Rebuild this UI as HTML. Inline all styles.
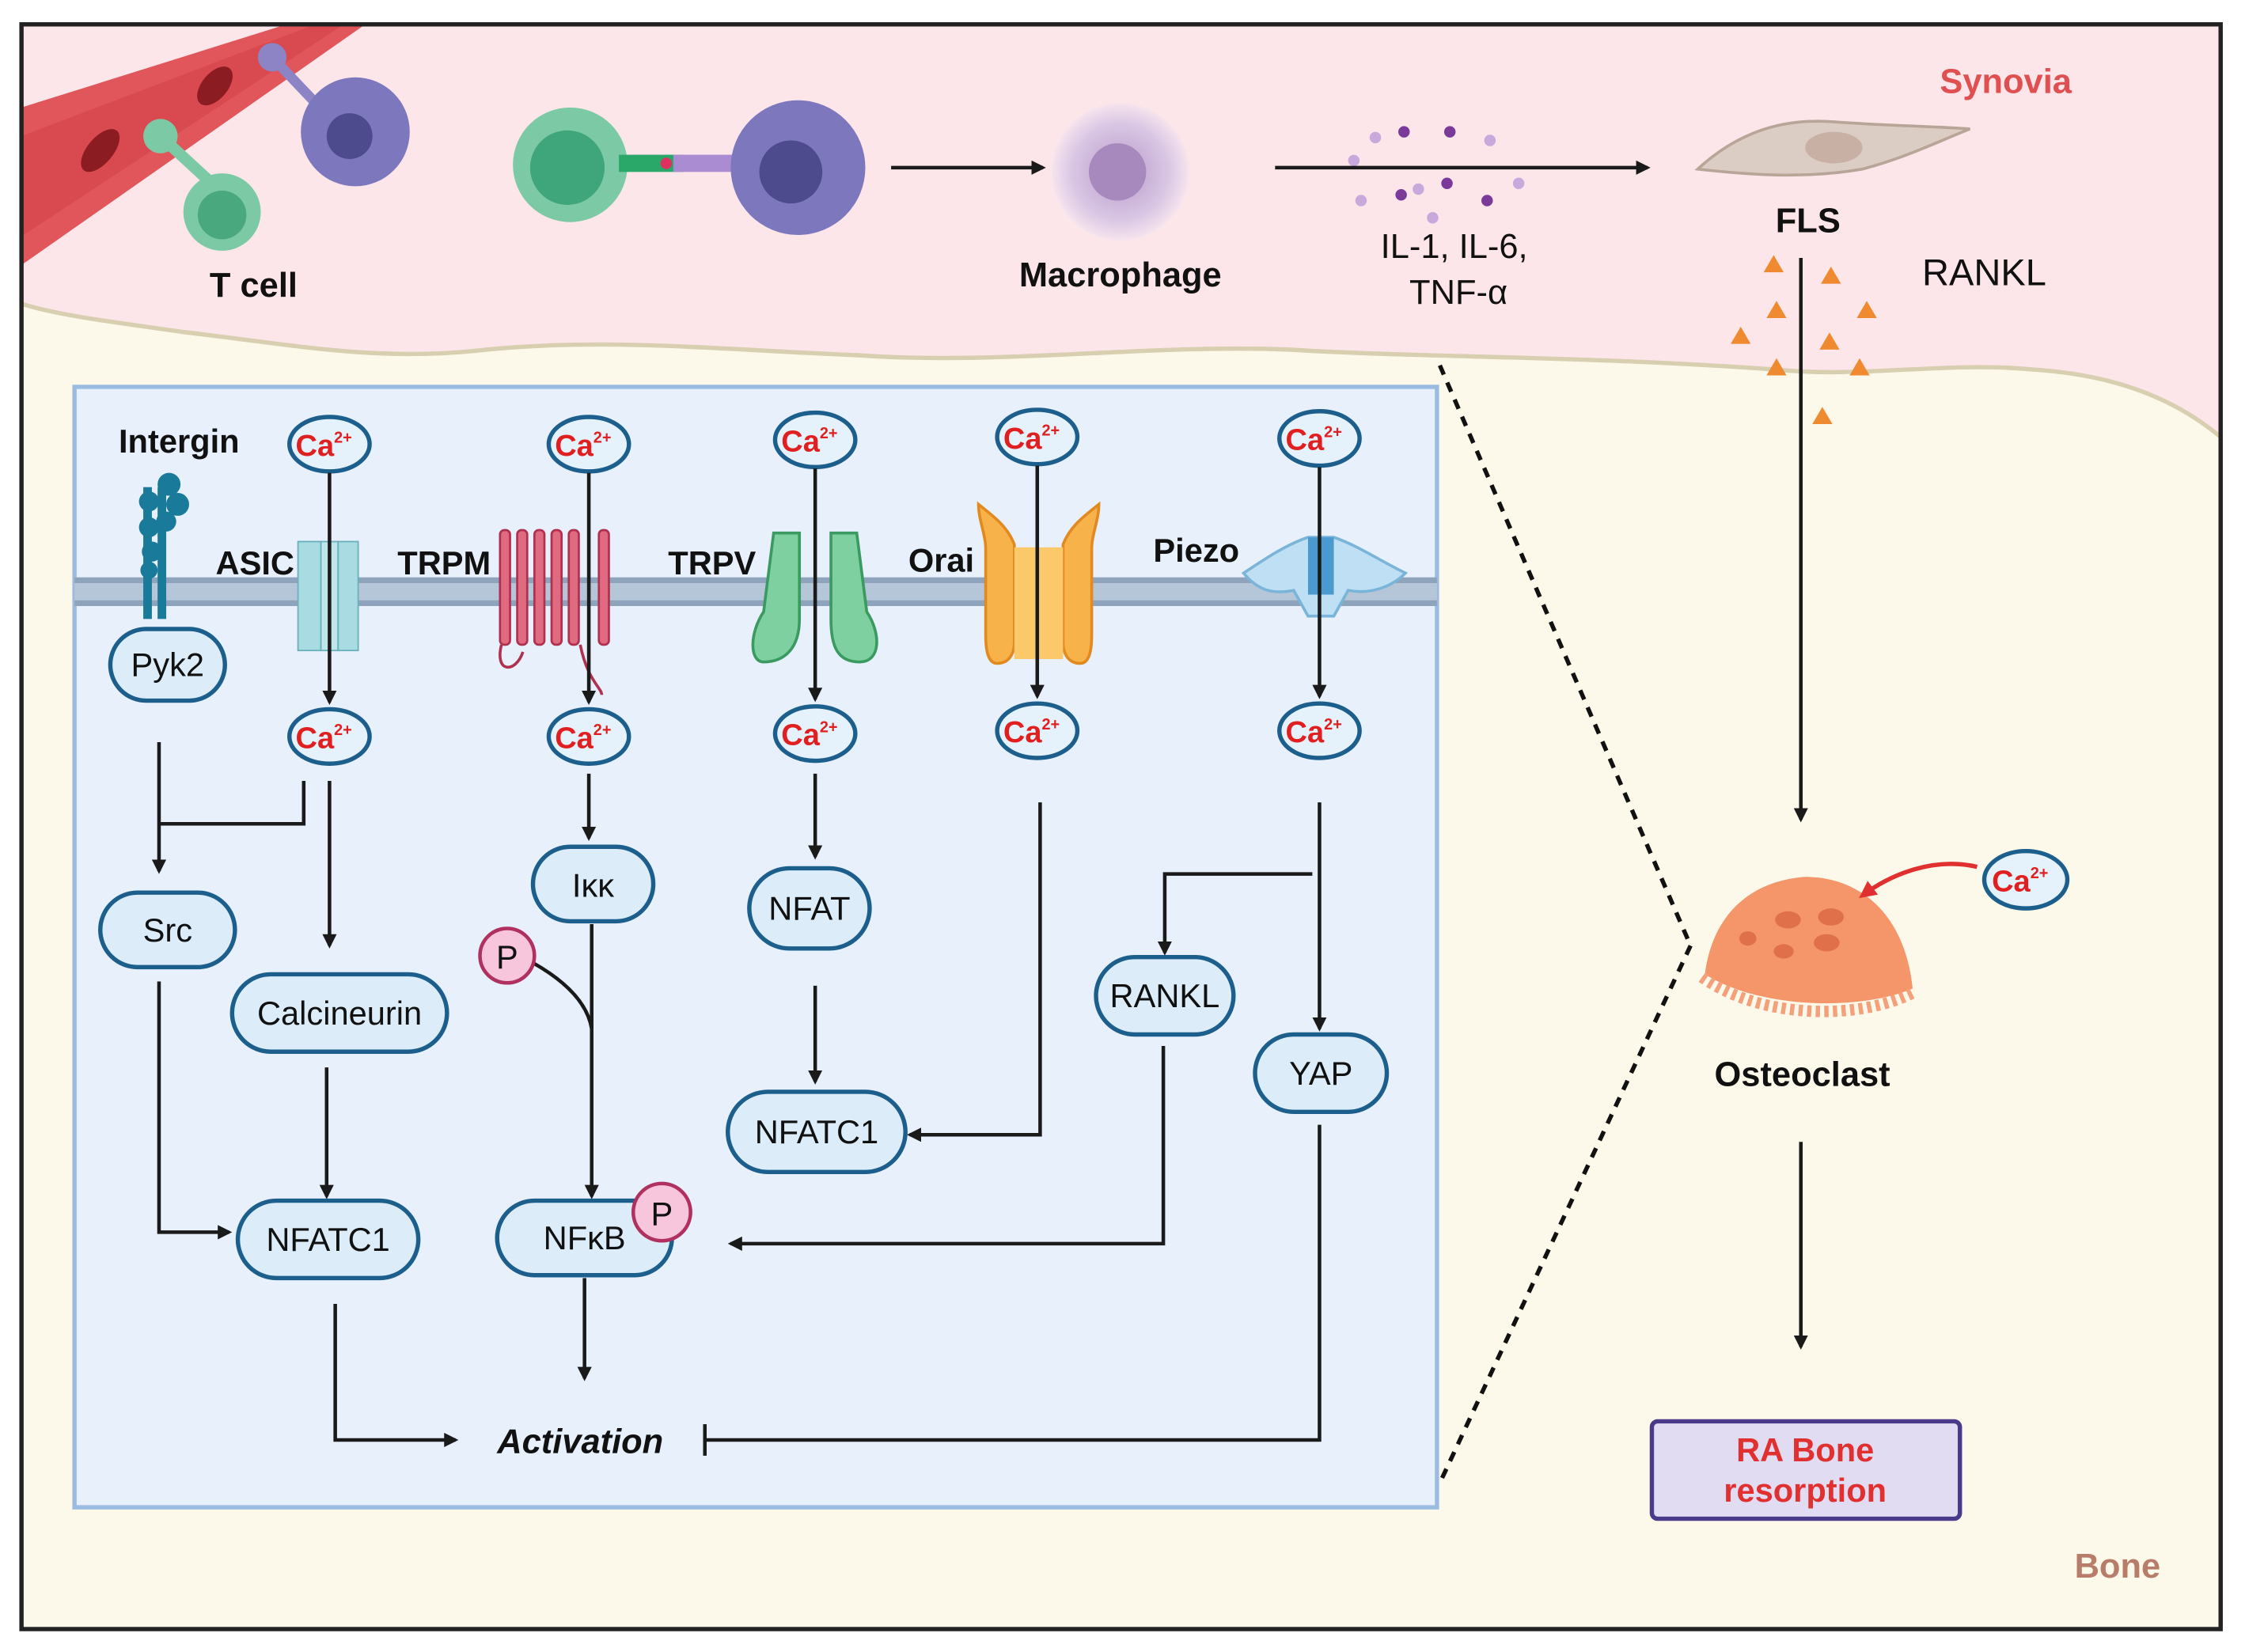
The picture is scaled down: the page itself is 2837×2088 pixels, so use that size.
<!DOCTYPE html>
<html><head><meta charset="utf-8"><style>
html,body{margin:0;padding:0;background:#fff;}
svg{display:block;}
text{font-family:"Liberation Sans",sans-serif;}
</style></head><body>
<svg width="2837" height="2088" viewBox="0 0 1567 1153" preserveAspectRatio="none" xmlns="http://www.w3.org/2000/svg">
<defs>
<marker id="ah" markerWidth="10" markerHeight="10" refX="8" refY="5" orient="auto" markerUnits="userSpaceOnUse"><path d="M0,0 L10,5 L0,10 z" fill="#1a1a1a"/></marker>
<marker id="ahr" markerWidth="12" markerHeight="12" refX="9" refY="6" orient="auto" markerUnits="userSpaceOnUse"><path d="M0,0 L12,6 L0,12 z" fill="#e03030"/></marker>
<radialGradient id="mac"><stop offset="0" stop-color="#b79ac9"/><stop offset="0.7" stop-color="#d9c6e4"/><stop offset="1" stop-color="#f6e4ee"/></radialGradient>
</defs>
<rect x="0" y="0" width="1567" height="1153" fill="#fff"/>
<rect x="15" y="17" width="1535" height="1120" fill="#fcf9ea"/>
<path d="M15,17 H1550 V305 C1520,280 1480,262 1420,258 C1360,252 1300,264 1240,258 C1100,248 1000,250 900,244 C800,240 700,255 600,248 C500,244 420,235 330,245 C260,252 200,240 130,232 C80,225 40,220 15,212 Z" fill="#fde6ea"/>
<path d="M1550,305 C1520,280 1480,262 1420,258 C1360,252 1300,264 1240,258 C1100,248 1000,250 900,244 C800,240 700,255 600,248 C500,244 420,235 330,245 C260,252 200,240 130,232 C80,225 40,220 15,212" fill="none" stroke="#d8ceb0" stroke-width="3"/>
<path d="M15,75 L200,17 L255,17 L15,185 Z" fill="#e0565a"/>
<path d="M15,95 L220,17 L240,17 L15,165 Z" fill="#d94a50"/>
<ellipse cx="70" cy="105" rx="9" ry="18" transform="rotate(40 70 105)" fill="#8b1c22"/>
<ellipse cx="150" cy="60" rx="9" ry="16" transform="rotate(40 150 60)" fill="#8b1c22"/>
<circle cx="112" cy="95" r="12" fill="#7ccaa5"/>
<path d="M112,95 L150,130" stroke="#7ccaa5" stroke-width="8"/>
<circle cx="155" cy="148" r="27" fill="#7ccaa5"/><circle cx="155" cy="150" r="17" fill="#4aa87e"/>
<circle cx="190" cy="40" r="10" fill="#8c84c4"/>
<path d="M190,40 L228,80" stroke="#8c84c4" stroke-width="7"/>
<circle cx="248" cy="92" r="38" fill="#7d78bd"/><circle cx="244" cy="95" r="16" fill="#4e4a8e"/>
<text x="177" y="207" font-size="24" font-weight="bold" text-anchor="middle" fill="#111">T cell</text>
<circle cx="398" cy="115" r="40" fill="#7ccaa5"/><circle cx="396" cy="117" r="26" fill="#3ea67a"/>
<rect x="432" y="108" width="45" height="12" fill="#2aa86a"/><rect x="470" y="108" width="45" height="12" fill="#a98cd2"/>
<circle cx="465" cy="114" r="4" fill="#e03060"/>
<circle cx="557" cy="117" r="47" fill="#7d78bd"/><circle cx="552" cy="120" r="22" fill="#4e4a8e"/>
<line x1="622" y1="117" x2="728" y2="117" stroke="#1a1a1a" stroke-width="2.5" marker-end="url(#ah)"/>
<circle cx="782" cy="120" r="48" fill="url(#mac)"/><circle cx="780" cy="120" r="20" fill="#a889bd"/>
<text x="782" y="200" font-size="24" font-weight="bold" text-anchor="middle" fill="#111">Macrophage</text>
<g fill="#c9a8dc"><circle cx="945" cy="112" r="4"/><circle cx="960" cy="96" r="4"/><circle cx="990" cy="132" r="4"/><circle cx="1040" cy="98" r="4"/><circle cx="1060" cy="128" r="4"/><circle cx="1000" cy="152" r="4"/><circle cx="950" cy="140" r="4"/></g>
<g fill="#7a3a9a"><circle cx="980" cy="92" r="4"/><circle cx="1012" cy="92" r="4"/><circle cx="1010" cy="128" r="4"/><circle cx="978" cy="136" r="4"/><circle cx="1038" cy="140" r="4"/></g>
<line x1="890" y1="117" x2="1150" y2="117" stroke="#1a1a1a" stroke-width="2.5" marker-end="url(#ah)"/>
<text x="1015" y="180" font-size="24" text-anchor="middle" fill="#111">IL-1, IL-6,</text>
<text x="1018" y="212" font-size="24" text-anchor="middle" fill="#111">TNF-α</text>
<path d="M1185,118 C1210,95 1240,82 1280,85 C1320,88 1350,88 1375,90 C1350,100 1330,110 1300,118 C1260,125 1220,122 1185,118 Z" fill="#dccdc4" stroke="#b9a598" stroke-width="2"/>
<ellipse cx="1280" cy="103" rx="20" ry="11" fill="#c9b0a4"/>
<text x="1262" y="162" font-size="24" font-weight="bold" text-anchor="middle" fill="#111">FLS</text>
<text x="1385" y="199" font-size="26" text-anchor="middle" fill="#111">RANKL</text>
<text x="1400" y="65" font-size="24" font-weight="bold" text-anchor="middle" fill="#e05050">Synovia</text>
<g fill="#f08a30"><path d="M1238,178 l7,12 h-14z"/><path d="M1278,186 l7,12 h-14z"/><path d="M1240,210 l7,12 h-14z"/><path d="M1303,210 l7,12 h-14z"/><path d="M1215,228 l7,12 h-14z"/><path d="M1277,232 l7,12 h-14z"/><path d="M1240,250 l7,12 h-14z"/><path d="M1298,250 l7,12 h-14z"/><path d="M1272,284 l7,12 h-14z"/></g>
<line x1="1257" y1="180" x2="1257" y2="572" stroke="#1a1a1a" stroke-width="2.5" marker-end="url(#ah)"/>
<path d="M1190,680 C1195,640 1220,615 1260,612 C1300,612 1330,640 1335,690 C1300,705 1230,705 1190,680 Z" fill="#f4956a"/>
<path d="M1188,682 C1230,712 1300,712 1337,692" fill="none" stroke="#f4a07a" stroke-width="8" stroke-dasharray="3 3"/>
<g fill="#e0704a"><ellipse cx="1248" cy="642" rx="9" ry="6"/><ellipse cx="1278" cy="640" rx="9" ry="6"/><ellipse cx="1275" cy="658" rx="9" ry="6"/><ellipse cx="1245" cy="664" rx="7" ry="5"/><ellipse cx="1220" cy="655" rx="6" ry="5"/></g>
<path d="M1380,605 C1350,598 1320,610 1300,625" fill="none" stroke="#e03030" stroke-width="3" marker-end="url(#ahr)"/>
<text x="1258" y="758" font-size="24" font-weight="bold" text-anchor="middle" fill="#111">Osteoclast</text>
<line x1="1257" y1="797" x2="1257" y2="940" stroke="#1a1a1a" stroke-width="2.5" marker-end="url(#ah)"/>
<rect x="1153" y="992" width="215" height="68" rx="4" fill="#e2dcf3" stroke="#4a3a8a" stroke-width="3"/>
<text x="1260" y="1020" font-size="23" font-weight="bold" text-anchor="middle" fill="#e03030">RA Bone</text>
<text x="1260" y="1048" font-size="23" font-weight="bold" text-anchor="middle" fill="#e03030">resorption</text>
<text x="1478" y="1101" font-size="24" font-weight="bold" text-anchor="middle" fill="#b87d6a">Bone</text>
<line x1="1005" y1="255" x2="1180" y2="660" stroke="#111" stroke-width="3" stroke-dasharray="7 6"/>
<line x1="1180" y1="660" x2="1005" y2="1035" stroke="#111" stroke-width="3" stroke-dasharray="7 6"/>
<rect x="52" y="270" width="951" height="782" fill="#e7f0fb" stroke="#9bbce0" stroke-width="3"/>
<rect x="52" y="403" width="951" height="20" fill="#b5c6d8"/>
<line x1="52" y1="405" x2="1003" y2="405" stroke="#8ea4bc" stroke-width="4"/>
<line x1="52" y1="421" x2="1003" y2="421" stroke="#8ea4bc" stroke-width="4"/>
<g fill="#1a7a9a"><rect x="100" y="340" width="6" height="92"/><rect x="110" y="340" width="6" height="92"/>
<circle cx="104" cy="350" r="7"/><circle cx="104" cy="368" r="7"/><circle cx="106" cy="385" r="7"/><circle cx="118" cy="338" r="8"/><circle cx="124" cy="352" r="8"/><circle cx="116" cy="364" r="7"/><circle cx="104" cy="398" r="6"/></g>
<text x="125" y="316" font-size="23" font-weight="bold" text-anchor="middle" fill="#111">Intergin</text>
<rect x="208" y="378" width="16" height="76" fill="#a8dce2" stroke="#6ab0bc"/><rect x="224" y="378" width="12" height="76" fill="#bfe6ea" stroke="#6ab0bc"/><rect x="236" y="378" width="14" height="76" fill="#a8dce2" stroke="#6ab0bc"/>
<text x="178" y="401" font-size="23" font-weight="bold" text-anchor="middle" fill="#111">ASIC</text>
<g fill="#e06a80" stroke="#b03050" stroke-width="1.5">
<rect x="349" y="370" width="7" height="80" rx="3"/><rect x="361" y="370" width="7" height="80" rx="3"/><rect x="373" y="370" width="7" height="80" rx="3"/><rect x="385" y="370" width="7" height="80" rx="3"/><rect x="397" y="370" width="7" height="80" rx="3"/><rect x="418" y="370" width="7" height="80" rx="3"/></g>
<path d="M350,450 C345,470 360,470 365,455 M405,450 C410,475 420,480 420,485" fill="none" stroke="#b03050" stroke-width="2"/>
<text x="310" y="401" font-size="23" font-weight="bold" text-anchor="middle" fill="#111">TRPM</text>
<path d="M540,372 h18 v60 c0,20 -10,30 -25,30 c-10,0 -10,-20 0,-35 z" fill="#7fd0a0" stroke="#3a9a60" stroke-width="2"/>
<path d="M580,372 h18 l7,55 c10,15 10,35 -5,35 c-15,0 -20,-10 -20,-30 z" fill="#7fd0a0" stroke="#3a9a60" stroke-width="2"/>
<text x="497" y="401" font-size="23" font-weight="bold" text-anchor="middle" fill="#111">TRPV</text>
<path d="M683,352 c10,8 20,15 25,28 v68 c0,10 -5,15 -12,15 c-6,0 -8,-8 -8,-20 v-60 c0,-10 -5,-20 -5,-31z" fill="#f7b24a" stroke="#e08a20" stroke-width="2"/>
<path d="M767,352 c-10,8 -20,15 -25,28 v68 c0,10 5,15 12,15 c6,0 8,-8 8,-20 v-60 c0,-10 5,-20 5,-31z" fill="#f7b24a" stroke="#e08a20" stroke-width="2"/>
<rect x="708" y="382" width="34" height="78" fill="#fbc86a"/>
<text x="657" y="399" font-size="23" font-weight="bold" text-anchor="middle" fill="#111">Orai</text>
<path d="M868,400 c15,-10 30,-20 45,-25 h18 c15,5 30,15 50,25 c-10,10 -25,15 -40,12 l-10,18 h-18 l-10,-18 c-15,3 -25,0 -35,-12z" fill="#bfe0f4" stroke="#7ab4d8" stroke-width="2"/>
<rect x="913" y="375" width="18" height="40" fill="#4a9ad0"/>
<text x="835" y="392" font-size="23" font-weight="bold" text-anchor="middle" fill="#111">Piezo</text>
<g stroke="#1d5f8c" stroke-width="3" fill="#e6f2fb">
<ellipse cx="230" cy="310" rx="28" ry="19"/><ellipse cx="411" cy="310" rx="28" ry="19"/><ellipse cx="569" cy="307" rx="28" ry="19"/><ellipse cx="724" cy="305" rx="28" ry="19"/><ellipse cx="921" cy="306" rx="28" ry="19"/>
<ellipse cx="230" cy="514" rx="28" ry="19"/><ellipse cx="411" cy="514" rx="28" ry="19"/><ellipse cx="569" cy="512" rx="28" ry="19"/><ellipse cx="724" cy="510" rx="28" ry="19"/><ellipse cx="921" cy="510" rx="28" ry="19"/>
<ellipse cx="1414" cy="614" rx="29" ry="20"/></g>
<g font-size="21" font-weight="bold" fill="#e02020" text-anchor="middle">
<text x="226" y="318">Ca<tspan font-size="11" dy="-9">2+</tspan></text>
<text x="407" y="318">Ca<tspan font-size="11" dy="-9">2+</tspan></text>
<text x="565" y="315">Ca<tspan font-size="11" dy="-9">2+</tspan></text>
<text x="720" y="313">Ca<tspan font-size="11" dy="-9">2+</tspan></text>
<text x="917" y="314">Ca<tspan font-size="11" dy="-9">2+</tspan></text>
<text x="226" y="522">Ca<tspan font-size="11" dy="-9">2+</tspan></text>
<text x="407" y="522">Ca<tspan font-size="11" dy="-9">2+</tspan></text>
<text x="565" y="520">Ca<tspan font-size="11" dy="-9">2+</tspan></text>
<text x="720" y="518">Ca<tspan font-size="11" dy="-9">2+</tspan></text>
<text x="917" y="518">Ca<tspan font-size="11" dy="-9">2+</tspan></text>
<text x="1410" y="622">Ca<tspan font-size="11" dy="-9">2+</tspan></text>
</g>
<g stroke="#1a1a1a" stroke-width="2.5" fill="none">
<line x1="230" y1="330" x2="230" y2="490" marker-end="url(#ah)"/>
<line x1="411" y1="330" x2="411" y2="490" marker-end="url(#ah)"/>
<line x1="569" y1="327" x2="569" y2="488" marker-end="url(#ah)"/>
<line x1="724" y1="325" x2="724" y2="486" marker-end="url(#ah)"/>
<line x1="921" y1="326" x2="921" y2="486" marker-end="url(#ah)"/>
<line x1="111" y1="518" x2="111" y2="608" marker-end="url(#ah)"/>
<polyline points="212,545 212,575 111,575"/>
<line x1="230" y1="545" x2="230" y2="660" marker-end="url(#ah)"/>
<line x1="411" y1="540" x2="411" y2="585" marker-end="url(#ah)"/>
<line x1="569" y1="540" x2="569" y2="598" marker-end="url(#ah)"/>
<line x1="569" y1="688" x2="569" y2="755" marker-end="url(#ah)"/>
<polyline points="726,560 726,792 635,792" marker-end="url(#ah)"/>
<polyline points="916,610 813,610 813,665" marker-end="url(#ah)"/>
<line x1="921" y1="560" x2="921" y2="718" marker-end="url(#ah)"/>
<polyline points="111,685 111,860 160,860" marker-end="url(#ah)"/>
<line x1="228" y1="745" x2="228" y2="835" marker-end="url(#ah)"/>
<line x1="413" y1="645" x2="413" y2="835" marker-end="url(#ah)"/>
<path d="M372,672 C395,685 410,700 413,718"/>
<polyline points="812,730 812,868 510,868" marker-end="url(#ah)"/>
<line x1="408" y1="892" x2="408" y2="962" marker-end="url(#ah)"/>
<polyline points="234,910 234,1005 318,1005" marker-end="url(#ah)"/>
<polyline points="921,785 921,1005 492,1005"/>
<line x1="492" y1="994" x2="492" y2="1016"/>
</g>
<g stroke="#1d5f8c" stroke-width="3" fill="#dcedf9">
<rect x="77" y="439" width="80" height="50" rx="25"/>
<rect x="70" y="623" width="94" height="52" rx="26"/>
<rect x="162" y="680" width="150" height="54" rx="27"/>
<rect x="166" y="838" width="126" height="54" rx="27"/>
<rect x="372" y="591" width="84" height="52" rx="26"/>
<rect x="347" y="838" width="122" height="52" rx="26"/>
<rect x="523" y="606" width="84" height="56" rx="28"/>
<rect x="508" y="762" width="124" height="56" rx="28"/>
<rect x="765" y="668" width="96" height="54" rx="27"/>
<rect x="876" y="722" width="92" height="54" rx="27"/>
</g>
<g stroke="#b03060" stroke-width="2.5" fill="#f7c6dc"><circle cx="462" cy="846" r="20"/><circle cx="354" cy="667" r="19"/></g>
<g font-size="23" fill="#111" text-anchor="middle">
<text x="117" y="472">Pyk2</text>
<text x="117" y="657">Src</text>
<text x="237" y="715">Calcineurin</text>
<text x="229" y="873">NFATC1</text>
<text x="414" y="626">Iκκ</text>
<text x="408" y="872">NFκB</text>
<text x="565" y="642">NFAT</text>
<text x="570" y="798">NFATC1</text>
<text x="813" y="703">RANKL</text>
<text x="922" y="757">YAP</text>
<text x="462" y="855">P</text>
<text x="354" y="676">P</text>
</g>
<text x="405" y="1014" font-size="24" font-weight="bold" font-style="italic" text-anchor="middle" fill="#111">Activation</text>
<rect x="15" y="17" width="1535" height="1120" fill="none" stroke="#222" stroke-width="3"/>
</svg>
</body></html>
